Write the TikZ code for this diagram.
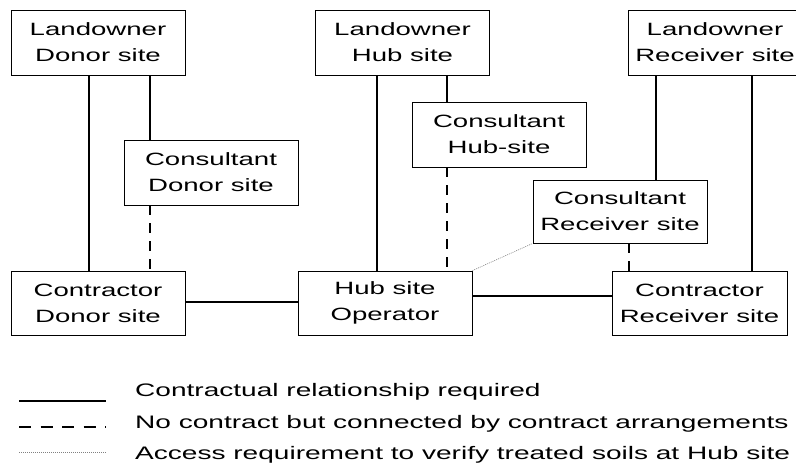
\documentclass[tikz,border=0pt]{standalone}
\usepackage{fontspec}
\setmainfont{Liberation Sans}[FakeStretch=1.55]
\begin{document}
\begin{tikzpicture}[x=1pt,y=-1pt,
  box/.style={draw, line width=0.9pt, rectangle, inner sep=0pt,
    minimum width=174pt, minimum height=65pt, align=center,
    font=\fontsize{17.8}{26}\selectfont},
  contract/.style={line width=2pt},
  linkline/.style={line width=1.5pt},
  nocontract/.style={line width=2pt, dash pattern=on 10pt off 8pt},
  access/.style={line width=0.6pt, gray, dash pattern=on 1pt off 1pt},
  legendtext/.style={anchor=west, inner sep=0pt, font=\fontsize{18.1}{22}\selectfont}]
\useasboundingbox (0,0) rectangle (796,468);

% top row: landowners
\node[box] (LD) at (98,42.5) {Landowner\\Donor site};
\node[box] (LH) at (402.5,42.5) {Landowner\\Hub site};
\node[box] (LR) at (715,42.5) {Landowner\\Receiver site};

% consultants
\node[box] (ConsD) at (211,172.5) {Consultant\\Donor site};
\node[box] (ConsH) at (499,134.5) {Consultant\\Hub-site};
\node[box, minimum height=63pt] (ConsR) at (620,211.5) {Consultant\\Receiver site};

% bottom row: contractors and hub operator
\node[box, minimum height=64pt] (CD) at (98,303) {Contractor\\Donor site};
\node[box, minimum height=64pt] (HO) at (385,303) {Hub site\\Operator};
\node[box, minimum height=64pt, minimum width=175pt] (CR) at (699.5,303) {Contractor\\Receiver site};

% donor side
\draw[contract] (LD.south -| 89,0) -- (CD.north -| 89,0);
\draw[contract] (LD.south -| 150,0) -- (ConsD.north -| 150,0);
\draw[nocontract] (ConsD.south -| 150,0) -- (CD.north -| 150,0);

% hub side
\draw[contract] (LH.south -| 377,0) -- (HO.north -| 377,0);
\draw[contract] (LH.south -| 447,0) -- (ConsH.north -| 447,0);
\draw[nocontract] (ConsH.south -| 447,0) -- (HO.north -| 447,0);

% receiver side
\draw[contract] (LR.south -| 656,0) -- (ConsR.north -| 656,0);
\draw[contract] (LR.south -| 752,0) -- (CR.north -| 752,0);
\draw[nocontract] (ConsR.south -| 629,0) -- (CR.north -| 629,0);

% links between contractors and hub operator
\draw[linkline] (CD.east |- 0,302) -- (HO.west |- 0,302);
\draw[linkline] (HO.east |- 0,296) -- (CR.west |- 0,296);

% access requirement
\draw[access] (HO.north east) -- (ConsR.south west);

% legend
\coordinate (s1) at (19,401);  \coordinate (s2) at (106,401);
\coordinate (d1) at (19,427);  \coordinate (d2) at (106,427);
\coordinate (a1) at (19,452);  \coordinate (a2) at (106,452);
\draw[linkline] (s1) -- (s2);
\draw[line width=2pt, dash pattern=on 12pt off 9.5pt] (d1) -- (d2);
\draw[access] (a1) -- (a2);
\node[legendtext] (t1) at (135,392) {Contractual relationship required};
\node[legendtext] (t2) at (135,424) {No contract but connected by contract arrangements};
\node[legendtext] (t3) at (135,455) {Access requirement to verify treated soils at Hub site};
\end{tikzpicture}
\end{document}
